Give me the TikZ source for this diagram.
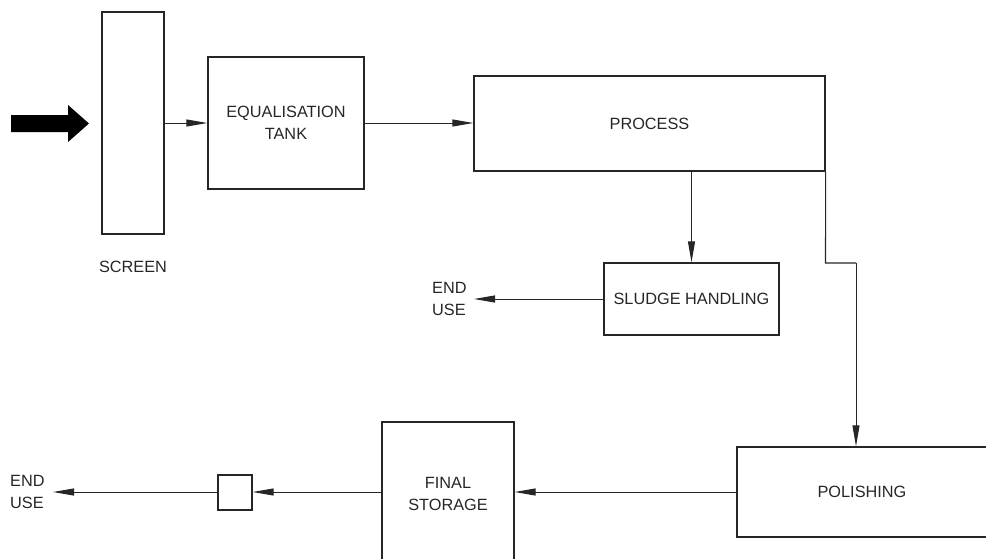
\documentclass[tikz,border=0pt]{standalone}
\usepackage{fontspec}
\setmainfont{Liberation Sans}
\usetikzlibrary{arrows.meta}
\begin{document}
\begin{tikzpicture}[x=1pt,y=-1pt,
  box/.style={draw=black!85,line width=1.3pt,minimum width=#1,inner sep=0pt},
  lbl/.style={font=\fontsize{16.3}{21.5}\selectfont,align=center,inner sep=0pt,text=black!85},
  flow/.style={draw=black!85,line width=1pt,-{Triangle[length=21pt,width=7pt]}},
  plain/.style={draw=black!85,line width=1.1pt}]
\useasboundingbox (0,0) rectangle (986,558);
% nodes
\node[box=62pt,minimum height=222pt] (scr) at (133,123) {};
\node[lbl] (scrlbl) at (133,267) {SCREEN};
\node[box=156pt,minimum height=132pt,lbl] (eq) at (286,123) {EQUALISATION\\TANK};
\node[box=351pt,minimum height=95pt,lbl] (pr) at (649.5,123.5) {PROCESS};
\node[box=175pt,minimum height=72pt,lbl] (sl) at (691.5,299) {SLUDGE HANDLING};
\node[lbl,align=left,anchor=west] (eu1) at (432,299) {END\\USE};
\node[box=253pt,minimum height=90pt] (pol) at (863.5,492) {};
\node[lbl] (poltxt) at (862,492) {POLISHING};
\node[box=132pt,minimum height=144pt] (fs) at (448,494) {};
\node[lbl] (fstxt) at (448,494) {FINAL\\STORAGE};
\node[box=34pt,minimum height=35pt] (sq) at (235,492.5) {};
\node[lbl,align=left,anchor=west] (eu2) at (10,492) {END\\USE};
% feed arrow
\fill[black] (11,115) -- (68,115) -- (68,105) -- (89,123.5) -- (68,142) -- (68,132) -- (11,132) -- cycle;
% connectors
\draw[flow] (scr.east |- 0,123) -- (eq.west |- 0,123);
\draw[flow] (eq.east |- 0,123) -- (pr.west |- 0,123);
\draw[flow] (sl.north |- pr.south) -- (sl.north);
\coordinate (eu1end) at (474,299);
\draw[flow] (sl.west) -- (eu1end);
\coordinate (bend1) at (825.5,263);
\coordinate (bend2) at (856,263);
\draw[plain] (pr.south east) -- (bend1) -- (bend2);
\draw[flow] (bend2) -- (bend2 |- pol.north);
\draw[flow] (pol.west) -- (pol.west -| fs.east);
\draw[flow] (pol.west -| fs.west) -- (sq.east |- pol.west);
\coordinate (eu2end) at (53,492);
\draw[flow] (sq.west |- pol.west) -- (eu2end);
\end{tikzpicture}
\end{document}
